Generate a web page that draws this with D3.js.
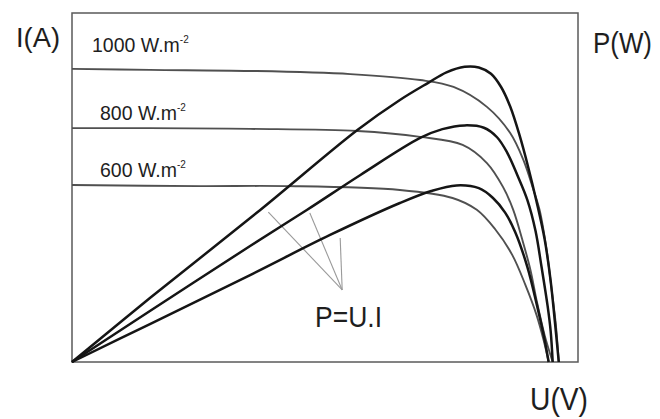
<!DOCTYPE html>
<html>
<head>
<meta charset="utf-8">
<script src="https://cdn.jsdelivr.net/npm/d3@7"></script>
<style>
  html, body { margin: 0; padding: 0; background: #fff; }
  svg { display: block; }
  text { font-family: "Liberation Sans", Arial, sans-serif; fill: #1e1e1e; }
</style>
</head>
<body>
<div id="chart"></div>
<script>
// ---- Data (U in V, I in A, P in W) ----
const irradiances = ["1000", "800", "600"];

const iv1000 = [[0,8.40],[7.7,8.37],[17.6,8.34],[27.5,8.25],[34.4,8.08],[37.7,7.88],[41.0,7.31],[43.3,6.56],[44.6,5.79],[45.6,4.93],[46.2,4.36],[46.9,3.21],[47.4,2.06],[47.8,1.10],[48.1,0]];
const iv800  = [[0,6.70],[7.7,6.70],[17.6,6.68],[28.2,6.62],[34.4,6.45],[38.6,6.22],[41.0,5.70],[42.6,5.01],[43.6,4.36],[44.5,3.50],[45.3,2.64],[45.9,1.78],[46.7,0.77],[47.5,0]];
const iv600  = [[0,5.07],[12.6,5.04],[21.2,5.04],[32.4,4.93],[37.6,4.70],[40.0,4.36],[41.8,3.81],[43.5,3.07],[44.8,2.21],[45.9,1.35],[46.6,0.63],[47.1,0]];

const pv1000 = [[0,0],[7.7,45.8],[18.6,108.9],[28.2,166.2],[32.4,187.7],[35.2,200.0],[37.0,207.5],[38.8,211.5],[40.2,211.0],[41.4,206.5],[42.4,197.0],[43.3,183.0],[44.2,163.0],[45.1,139.0],[45.9,115.0],[46.7,88.0],[47.3,58.0],[47.7,30.0],[48.1,0]];
const pv800  = [[0,0],[7.7,36.5],[17.6,83.1],[23.2,108.9],[28.5,134.0],[34.4,160.5],[36.6,166.8],[38.8,169.5],[40.7,167.8],[42.0,161.0],[43.0,150.0],[44.0,134.0],[45.0,116.0],[45.8,94.0],[46.4,68.0],[47.0,40.0],[47.3,22.0],[47.5,0]];
const pv600  = [[0,0],[7.7,27.2],[17.6,62.3],[25.5,91.0],[32.4,113.9],[35.5,122.5],[38.0,126.5],[40.2,124.5],[41.6,117.5],[42.8,107.0],[43.8,93.0],[45.0,68.0],[45.9,42.0],[46.7,16.0],[47.1,0]];

// annotation "P=U.I": pointer tip and line starts, in (U, P)
const pointerTip = [26.7, 51.6];
const pointerStarts = [[19.4, 107.4], [23.5, 106.7], [26.5, 88.8]];

// ---- Layout ----
const W = 660, H = 419;
const box = { left: 72, top: 13, right: 578, bottom: 362 };

const svg = d3.select("#chart").append("svg")
  .attr("width", W).attr("height", H);

const x = d3.scaleLinear().domain([0, 50]).range([box.left, box.right]);
const yI = d3.scaleLinear().domain([0, 10]).range([box.bottom, box.top]);
const yP = d3.scaleLinear().domain([0, 250]).range([box.bottom, box.top]);

// frame
svg.append("rect")
  .attr("x", box.left).attr("y", box.top)
  .attr("width", box.right - box.left).attr("height", box.bottom - box.top)
  .attr("fill", "none").attr("stroke", "#5a5a5a").attr("stroke-width", 1.5);

const curve = d3.curveCatmullRom.alpha(0.5);
const lineI = d3.line().x(d => x(d[0])).y(d => yI(d[1])).curve(curve);
const lineP = d3.line().x(d => x(d[0])).y(d => yP(d[1])).curve(curve);

// pointer lines
const pg = svg.append("g");
pointerStarts.forEach(s => {
  pg.append("line")
    .attr("x1", x(s[0])).attr("y1", yP(s[1]))
    .attr("x2", x(pointerTip[0])).attr("y2", yP(pointerTip[1]))
    .attr("stroke", "#9a9a9a").attr("stroke-width", 1.1);
});

// I-V curves (thin grey)
[iv1000, iv800, iv600].forEach(d => {
  svg.append("path").datum(d).attr("d", lineI)
    .attr("fill", "none").attr("stroke", "#505050").attr("stroke-width", 1.9);
});

// P-V curves (thick black)
[pv1000, pv800, pv600].forEach(d => {
  svg.append("path").datum(d).attr("d", lineP)
    .attr("fill", "none").attr("stroke", "#151515").attr("stroke-width", 2.5);
});

// irradiance labels
const labelPos = [[92, 52], [100, 120], [100, 177]];
irradiances.forEach((t, i) => {
  const tx = svg.append("text")
    .attr("x", labelPos[i][0]).attr("y", labelPos[i][1])
    .attr("font-size", 19.5);
  tx.append("tspan").text(t + " W.m");
  tx.append("tspan").attr("font-size", 10).attr("dy", -9).text("-2");
});

// axis titles
function label(txt, px, py, fs, len) {
  svg.append("text").attr("x", px).attr("y", py)
    .attr("font-size", fs)
    .attr("textLength", len).attr("lengthAdjust", "spacingAndGlyphs")
    .text(txt);
}
label("I(A)", 16, 47, 28, 44);
label("P(W)", 593, 53, 29, 59);
label("U(V)", 530, 410, 31, 58);
label("P=U.I", 315, 327, 30, 67);
</script>
</body>
</html>
